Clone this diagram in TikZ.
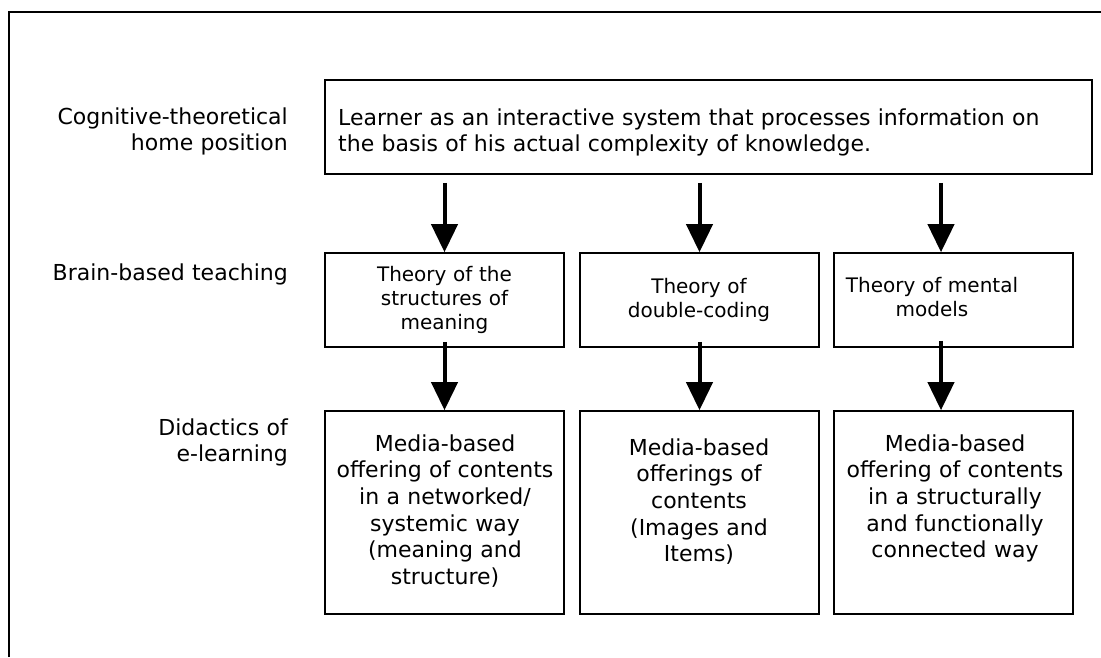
\documentclass[tikz,border=0pt]{standalone}
\usepackage{fontspec}
\setmainfont{DejaVu Sans}
\usetikzlibrary{arrows.meta,calc}
\begin{document}
\begin{tikzpicture}[x=1pt,y=-1pt,
  box/.style={draw, line width=1.6pt, inner sep=0pt, minimum height=94pt, minimum width=239pt},
  bigbox/.style={box, minimum height=203pt},
  big/.style={font=\fontsize{22}{26.7}\selectfont, inner sep=0pt},
  small/.style={font=\fontsize{20}{24}\selectfont, inner sep=0pt},
  ctxt/.style={text width=260pt, align=center, anchor=base},
  arr/.style={line width=4pt, -{Triangle[length=28pt,width=26pt]}}]
\useasboundingbox (0,0) rectangle (1101,657);
% outer frame
\draw[line width=1.3pt] (9,657) -- (9,12) -- (1101,12);
% boxes
\node[box, minimum width=767pt] (top) at (708.5,127) {};
\node[box] (m1) at (444.5,300) {};
\node[box] (m2) at (699.5,300) {};
\node[box] (m3) at (953.5,300) {};
\node[bigbox] (b1) at (444.5,512.5) {};
\node[bigbox] (b2) at (699.5,512.5) {};
\node[bigbox] (b3) at (953.5,512.5) {};
% left labels
\node[big, text width=280pt, align=right, anchor=base east] (l1) at (288,124) {Cognitive-theoretical\\home position};
\node[big, text width=280pt, align=right, anchor=base east] (l2) at (288,280) {Brain-based teaching};
\node[big, text width=280pt, align=right, anchor=base east] (l3) at (288,435) {Didactics of\\e-learning};
% top text
\node[big, text width=745pt, align=left, anchor=base west] (tt) at (338,125) {Learner as an interactive system that processes information on\\the basis of his actual complexity of knowledge.};
% middle texts
\node[small, ctxt] (m1t) at (444.5,281) {Theory of the\\structures of\\meaning};
\node[small, ctxt] (m2t) at (699,293) {Theory of\\double-coding};
\node[small, ctxt] (m3t) at (932,292) {Theory of mental\\models};
% bottom texts
\node[big, ctxt] (b1t) at (445,451) {Media-based\\offering of contents\\in a networked/\\systemic way\\(meaning and\\structure)};
\node[big, ctxt] (b2t) at (699,455) {Media-based\\offerings of\\contents\\(Images and\\Items)};
\node[big, ctxt] (b3t) at (955,451) {Media-based\\offering of contents\\in a structurally\\and functionally\\connected way};
% arrows top -> middle
\draw[arr] (m1.north |- top.south) ++(0,8) -- (m1.north);
\draw[arr] (m2.north |- top.south) ++(0,8) -- (m2.north);
\draw[arr] ($(m3.north |- top.south)+(-12.5,8)$) -- ($(m3.north)+(-12.5,0)$);
% arrows middle -> bottom
\draw[arr] ($(m1.south)+(0,-6)$) -- (b1.north);
\draw[arr] ($(m2.south)+(0,-6)$) -- (b2.north);
\draw[arr] ($(m3.south)+(-12.5,-7)$) -- ($(b3.north)+(-12.5,0)$);
\end{tikzpicture}
\end{document}
